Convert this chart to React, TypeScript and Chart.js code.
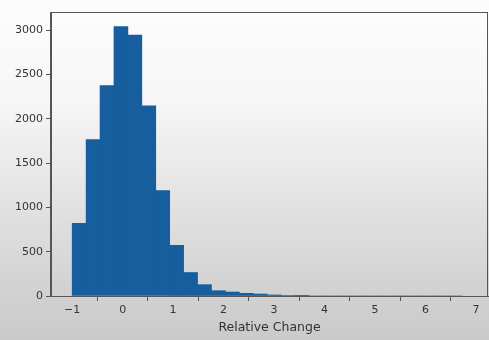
import React, { useEffect, useRef } from "react";
import { Chart, registerables } from "chart.js";

Chart.register(...registerables);

// Histogram bin centres (bin width 0.276) and counts
const binCenters = [
  -0.862, -0.586, -0.31, -0.034, 0.242, 0.518, 0.794, 1.07, 1.346, 1.622,
  1.898, 2.174, 2.45, 2.726, 3.002, 3.278, 3.554, 3.83, 4.106, 4.382,
  4.658, 4.934, 5.21, 5.486, 5.762, 6.038, 6.314, 6.59,
];
const counts = [
  820, 1765, 2375, 3040, 2945, 2145, 1190, 572, 265, 128,
  60, 45, 30, 22, 12, 6, 2, 0, 0, 0,
  0, 0, 0, 0, 0, 0, 0, 0,
];
const xTicks = [-1, 0, 1, 2, 3, 4, 5, 6, 7];
const yTicks = [0, 500, 1000, 1500, 2000, 2500, 3000];
const xLabel = "Relative Change";

const framePlugin = {
  id: "frame",
  afterDatasetsDraw(chart: any) {
    const { ctx, chartArea } = chart;
    ctx.save();
    ctx.strokeStyle = "#555";
    ctx.lineWidth = 1;
    ctx.strokeRect(
      Math.round(chartArea.left) - 0.5,
      Math.round(chartArea.top) + 0.5,
      Math.round(chartArea.right - chartArea.left),
      Math.round(chartArea.bottom - chartArea.top)
    );
    ctx.restore();
  },
};

const fmt = (v: any) => {
  const n = Number(v);
  return n < 0 ? "\u2212" + String(-n) : String(n);
};

export default function App() {
  const ref = useRef<HTMLCanvasElement>(null);
  useEffect(() => {
    const tickFont = { family: "'DejaVu Sans', sans-serif", size: 11 };
    const chart = new Chart(ref.current!, {
      type: "bar",
      data: {
        datasets: [
          {
            data: binCenters.map((x, i) => ({ x, y: counts[i] })),
            backgroundColor: "#165e9d",
            borderWidth: 0,
            barPercentage: 1,
            categoryPercentage: 1,
          },
        ],
      },
      options: {
        responsive: false,
        animation: false,
        layout: { padding: { top: 12, right: 1, left: 0, bottom: 0 } },
        plugins: { legend: { display: false }, tooltip: { enabled: false } },
        scales: {
          x: {
            type: "linear",
            min: -1.42,
            max: 7.24,
            offset: false,
            afterFit: (s: any) => { s.height = 44; },
            afterBuildTicks: (s: any) => { s.ticks = xTicks.map((v) => ({ value: v })); },
            ticks: { font: tickFont, color: "#333", padding: 3, maxRotation: 0, autoSkip: false, callback: fmt },
            grid: { drawOnChartArea: false, drawTicks: true, tickLength: 5, tickColor: "#555" },
            border: { display: true, color: "#555" },
            title: {
              display: true,
              text: xLabel,
              color: "#333",
              font: { family: "'DejaVu Sans', sans-serif", size: 12.5 },
              padding: { top: 0, bottom: 5 },
            },
          },
          y: {
            min: 0,
            max: 3205,
            afterFit: (s: any) => { s.width = 51; },
            afterBuildTicks: (s: any) => { s.ticks = yTicks.map((v) => ({ value: v })); },
            ticks: { font: tickFont, color: "#333", padding: 3, callback: fmt },
            grid: { drawOnChartArea: false, drawTicks: true, tickLength: 5, tickColor: "#555" },
            border: { display: true, color: "#555" },
          },
        },
      },
      plugins: [framePlugin],
    });
    return () => chart.destroy();
  }, []);
  return (
    <div
      style={{
        position: "fixed",
        left: 0,
        top: 0,
        width: 489,
        height: 340,
        background:
          "linear-gradient(to bottom, #fdfdfd 0%, #f6f6f6 30%, #e2e2e2 60%, #d2d2d2 85%, #cacaca 100%)",
      }}
    >
      <canvas ref={ref} width={489} height={340} style={{ display: "block" }} />
    </div>
  );
}
